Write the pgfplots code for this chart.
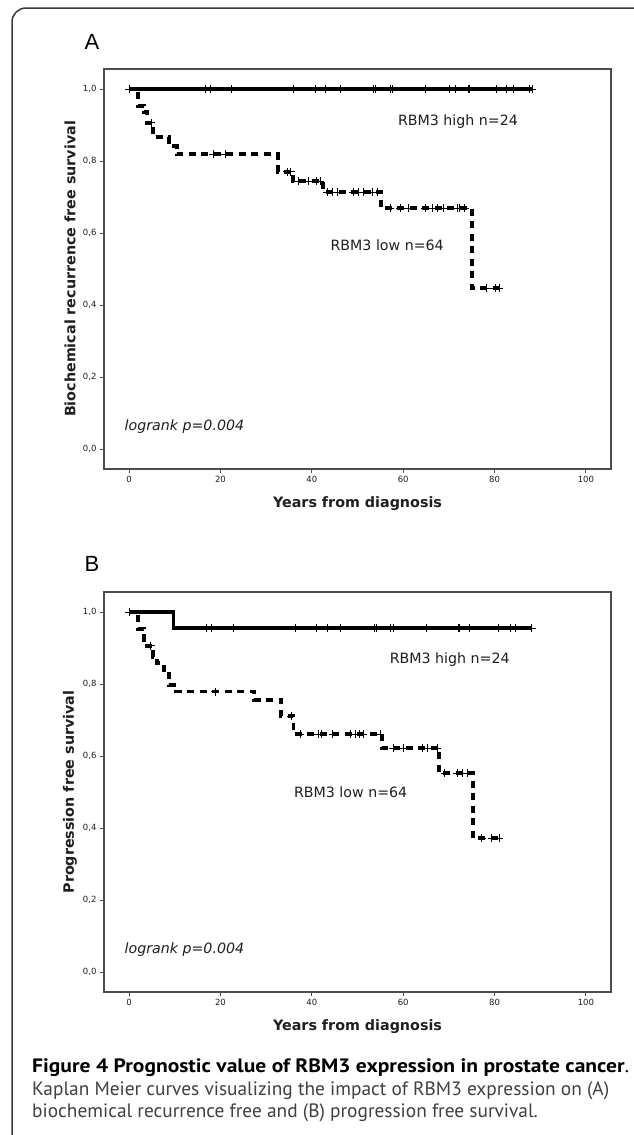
\documentclass[border=0pt]{standalone}
\usepackage{pgfplots}
\pgfplotsset{compat=1.18}
\usepackage{fontspec}
\usepackage{graphicx}
\setmainfont{DejaVu Sans}
\newfontfamily\capfont{PT Sans}
\newfontfamily\arialfont{Liberation Sans}
\definecolor{axgray}{gray}{0.3}
\definecolor{txt}{gray}{0.12}
\definecolor{capgray}{gray}{0.25}

\newlength\lwB
\newsavebox\capbox
\newcommand\capsize{\capfont\fontsize{18}{20}\selectfont}

\pgfplotsset{kmstyle/.style={
  scale only axis, width=507pt, height=400pt,
  xmin=-5.5, xmax=105.5, ymin=-0.0556, ymax=1.0556,
  axis line style={axgray, line width=1.1pt},
  xtick={0,20,40,60,80,100}, ytick={0,0.2,0.4,0.6,0.8,1},
  xticklabels={0,20,40,60,80,100},
  yticklabels={{0,0},{0,2},{0,4},{0,6},{0,8},{1,0}},
  tick align=outside, xtick pos=bottom, ytick pos=left, major tick length=4pt,
  every tick/.style={axgray, line width=0.8pt},
  ticklabel style={font=\fontsize{8.5}{10}\selectfont, text=txt},
  label style={font=\bfseries\fontsize{14.3}{16}\selectfont, text=txt},
  xlabel style={at={(axis description cs:0.5,-0.0875)}, anchor=center},
  ylabel style={at={(axis description cs:-0.067,0.5)}, anchor=center},
  clip=false,
  xlabel={Years from diagnosis},
}}
\tikzset{
  high/.style={black, line width=3.5pt},
  low/.style={black, line width=3.8pt, dash pattern=on 7pt off 5.5pt},
  cens/.style={only marks, mark=+, mark size=4pt, mark options={black, line width=0.8pt}},
  inlbl/.style={font=\fontsize{14.2}{16}\selectfont, text=txt},
}

\begin{document}%
\settowidth\lwB{\capsize Kaplan Meier curves visualizing the impact of RBM3 expression on (A)}%
\pgfmathsetmacro\capscale{577/\lwB}%
\sbox\capbox{\capsize\textbf{Figure 4 Prognostic value of RBM3 expression in prostate cancer}.}%
\begin{tikzpicture}
\path[use as bounding box] (0,0) rectangle (633pt,-1135pt);
\fill[white] (0,0) rectangle (633pt,-1135pt);
\draw[gray!45!black, line width=1.5pt, rounded corners=14pt] (12pt,-1145pt) -- (12pt,-8pt) -- (650pt,-8pt);

\node[font=\arialfont\fontsize{22}{24}\selectfont] at (92pt,-42pt) {A};
\node[font=\arialfont\fontsize{22}{24}\selectfont] at (92pt,-564pt) {B};

% ---------------- Panel A ----------------
\begin{axis}[kmstyle, at={(104pt,-469pt)}, anchor=south west,
  ylabel={Biochemical recurrence free survival}]
\addplot[high] coordinates {(0,1) (88.2,1)};
\addplot[cens] coordinates {(0,1) (16.8,1) (17.7,1) (22.5,1) (35.9,1) (40.7,1) (42.9,1) (46.2,1)
  (53.5,1) (54.0,1) (57.1,1) (57.7,1) (64.8,1) (70.2,1) (71.5,1) (74.2,1) (74.6,1)
  (80.5,1) (82.6,1) (84.1,1) (87.7,1) (88.2,1)};
\addplot[low] coordinates {(0,1) (2.0,1) (2.0,0.953) (3.3,0.953) (3.3,0.937) (4.0,0.937)
  (4.0,0.906) (5.3,0.906) (5.3,0.866) (8.7,0.866) (8.7,0.842) (10.4,0.842) (10.4,0.819)
  (32.6,0.819) (32.6,0.770) (35.9,0.770) (35.9,0.744) (42.5,0.744) (42.5,0.714)
  (55.1,0.714) (55.1,0.669) (75.0,0.669) (75.0,0.447) (81.0,0.447)};
\addplot[cens] coordinates {(4.8,0.906) (18.4,0.819) (21.0,0.819) (34.6,0.770) (35.4,0.770)
  (37.0,0.744) (39.2,0.744) (41.1,0.744) (41.8,0.744)
  (43.3,0.714) (44.4,0.714) (45.5,0.714) (49.0,0.714) (50.1,0.714) (51.2,0.714) (53.2,0.714) (54.3,0.714)
  (57.1,0.669) (59.3,0.669) (61.1,0.669) (64.8,0.669) (66.3,0.669) (67.6,0.669) (68.7,0.669)
  (71.8,0.669) (72.4,0.669) (73.5,0.669) (78.3,0.447) (80.1,0.447) (81.0,0.447)};
\node[inlbl] at (axis cs:72,0.909) {RBM3 high n=24};
\node[inlbl] at (axis cs:56.5,0.567) {RBM3 low n=64};
\node[inlbl, font=\itshape\fontsize{14.2}{16}\selectfont] at (axis cs:12.1,0.062) {logrank p=0.004};
\end{axis}

% ---------------- Panel B ----------------
\begin{axis}[kmstyle, at={(104pt,-992pt)}, anchor=south west,
  ylabel={Progression free survival}]
\addplot[high] coordinates {(0,1) (9.7,1) (9.7,0.955) (88.1,0.955)};
\addplot[cens] coordinates {(0,1) (17.0,0.955) (18.1,0.955) (22.8,0.955) (36.3,0.955) (41.1,0.955)
  (43.3,0.955) (46.2,0.955) (53.8,0.955) (54.2,0.955) (57.1,0.955) (57.8,0.955) (65.1,0.955)
  (72.1,0.955) (72.4,0.955) (74.6,0.955) (80.8,0.955) (83.4,0.955) (84.5,0.955) (88.1,0.955)};
\addplot[low] coordinates {(0,1) (2.0,1) (2.0,0.953) (3.3,0.953) (3.3,0.922) (4.0,0.922)
  (4.0,0.906) (5.3,0.906) (5.3,0.875) (6.1,0.875) (6.1,0.859) (7.6,0.859) (7.6,0.828)
  (8.7,0.828) (8.7,0.797) (10.2,0.797) (10.2,0.779) (27.4,0.779) (27.4,0.756) (33.3,0.756)
  (33.3,0.711) (36.0,0.711) (36.0,0.661) (55.3,0.661) (55.3,0.622) (67.8,0.622)
  (67.8,0.553) (75.3,0.553) (75.3,0.372) (81.0,0.372)};
\addplot[cens] coordinates {(4.7,0.906) (18.8,0.779) (35.5,0.711)
  (37.4,0.661) (41.4,0.661) (42.2,0.661) (44.6,0.661) (48.4,0.661) (49.5,0.661) (50.5,0.661) (51.2,0.661) (55.0,0.661)
  (57.8,0.622) (60.0,0.622) (64.1,0.622) (65.2,0.622) (67.4,0.622)
  (69.1,0.553) (71.8,0.553) (72.9,0.553) (74.0,0.553)
  (77.2,0.372) (79.4,0.372) (81.0,0.372)};
\node[inlbl] at (axis cs:70.2,0.869) {RBM3 high n=24};
\node[inlbl] at (axis cs:48.5,0.50) {RBM3 low n=64};
\node[inlbl, font=\itshape\fontsize{14.2}{16}\selectfont] at (axis cs:12.1,0.062) {logrank p=0.004};
\end{axis}

% ---------------- Caption ----------------
\node[anchor=base west, inner sep=0pt] at (32pt,-1072pt)
  {\resizebox{597pt}{\capscale\ht\capbox}{\usebox\capbox}};
\node[anchor=base west, inner sep=0pt, text=capgray] at (32pt,-1095pt)
  {\scalebox{\capscale}{\capsize Kaplan Meier curves visualizing the impact of RBM3 expression on (A)}};
\node[anchor=base west, inner sep=0pt, text=capgray] at (32pt,-1117pt)
  {\scalebox{\capscale}{\capsize biochemical recurrence free and (B) progression free survival.}};
\end{tikzpicture}%
\end{document}
